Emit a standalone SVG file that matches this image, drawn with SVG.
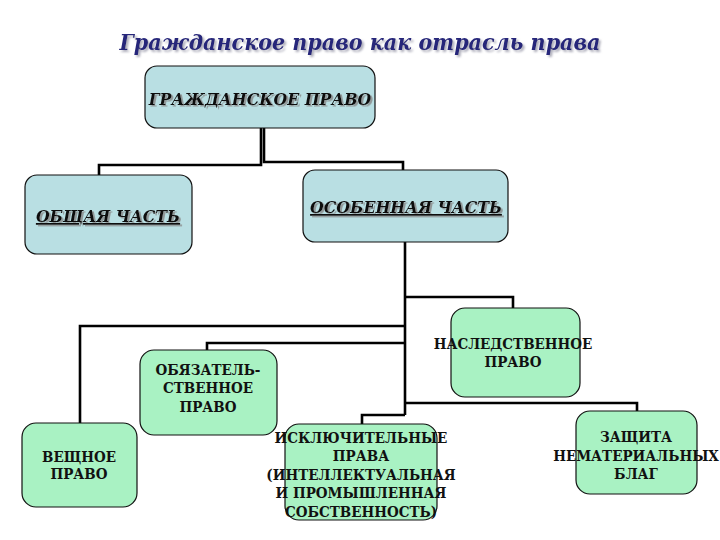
<svg xmlns="http://www.w3.org/2000/svg" width="720" height="540" viewBox="0 0 720 540">
<defs>
<style>
.blue{fill:#b9dfe3;stroke:#111;stroke-width:1.2}
.green{fill:#a9f2c3;stroke:#111;stroke-width:1.2}
.con{fill:none;stroke:#000;stroke-width:2.6}
text{font-family:'DejaVu Serif Condensed','DejaVu Serif',serif;font-weight:bold;fill:#111;text-anchor:middle}
.g{font-size:15px}
.bi{font-style:italic;font-size:17.5px;filter:url(#shadow)}
.u{text-decoration:underline}
.title{font-size:23px;font-style:italic;fill:#25257a;filter:url(#tshadow)}
</style>
<filter id="shadow" x="-10%" y="-30%" width="120%" height="160%">
<feDropShadow dx="2" dy="1.5" stdDeviation="0.6" flood-color="#888" flood-opacity="0.8"/>
</filter>
<filter id="tshadow" x="-10%" y="-30%" width="120%" height="160%">
<feDropShadow dx="2" dy="2" stdDeviation="1" flood-color="#9a9aaa" flood-opacity="0.8"/>
</filter>
</defs>
<rect width="720" height="540" fill="#fff"/>
<g id="title">
<text x="360" y="50" class="title">Гражданское право как отрасль права</text>
</g>
<g id="connectors">
<path class="con" d="M261,128 V165 H99 V175"/>
<path class="con" d="M264,128 V162 H403 V170"/>
<path class="con" d="M405,242 V415"/>
<path class="con" d="M405,297 H513 V308"/>
<path class="con" d="M405,326 H80 V423"/>
<path class="con" d="M405,343 H207 V350"/>
<path class="con" d="M405,403 H637 V411"/>
<path class="con" d="M405,415 H362 V424"/>
</g>
<g id="civil-law">
<rect class="blue" x="145" y="66" width="230" height="62" rx="12"/>
<text x="260" y="105" class="bi">ГРАЖДАНСКОЕ ПРАВО</text>
</g>
<g id="general-part">
<rect class="blue" x="25" y="175" width="167" height="79" rx="12"/>
<text x="108" y="222" class="bi u">ОБЩАЯ ЧАСТЬ</text>
</g>
<g id="special-part">
<rect class="blue" x="303" y="170" width="205" height="72" rx="12"/>
<text x="406" y="213" class="bi u">ОСОБЕННАЯ ЧАСТЬ</text>
</g>
<g id="inheritance-law">
<rect class="green" x="451" y="308" width="129" height="89" rx="14"/>
<text class="g" x="513" y="349">НАСЛЕДСТВЕННОЕ</text>
<text class="g" x="513" y="367">ПРАВО</text>
</g>
<g id="obligations-law">
<rect class="green" x="140" y="350" width="137" height="85" rx="14"/>
<text class="g" x="208" y="375">ОБЯЗАТЕЛЬ-</text>
<text class="g" x="208" y="393">СТВЕННОЕ</text>
<text class="g" x="208" y="412">ПРАВО</text>
</g>
<g id="property-law">
<rect class="green" x="22" y="423" width="115" height="84" rx="14"/>
<text class="g" x="79" y="462">ВЕЩНОЕ</text>
<text class="g" x="79" y="479">ПРАВО</text>
</g>
<g id="exclusive-rights">
<rect class="green" x="285" y="424" width="152" height="96" rx="14"/>
<text class="g" x="361" y="443">ИСКЛЮЧИТЕЛЬНЫЕ</text>
<text class="g" x="361" y="461">ПРАВА</text>
<text class="g" x="361" y="480">(ИНТЕЛЛЕКТУАЛЬНАЯ</text>
<text class="g" x="361" y="498">И ПРОМЫШЛЕННАЯ</text>
<text class="g" x="361" y="517">СОБСТВЕННОСТЬ)</text>
</g>
<g id="intangible-benefits">
<rect class="green" x="576" y="411" width="121" height="83" rx="14"/>
<text class="g" x="636" y="442">ЗАЩИТА</text>
<text class="g" x="636" y="461">НЕМАТЕРИАЛЬНЫХ</text>
<text class="g" x="636" y="479">БЛАГ</text>
</g>
</svg>
